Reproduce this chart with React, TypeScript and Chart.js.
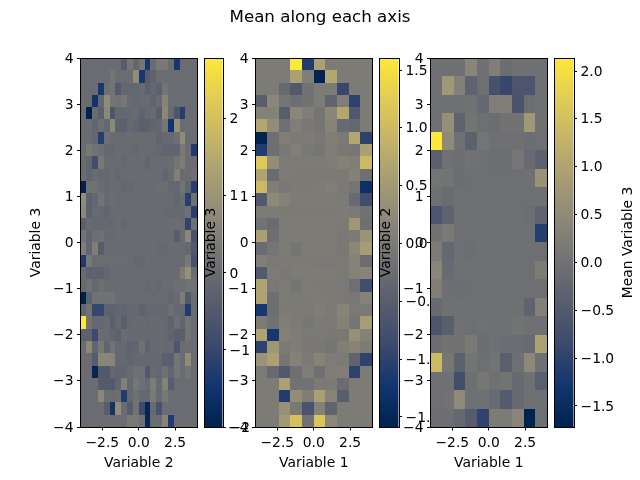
import React, { useEffect, useRef } from "react";
import { Chart, registerables, BarController, BarElement } from "chart.js";

Chart.register(...registerables);

const mainTitle = "Mean along each axis";
const colorbarTitle = "Mean Variable 3";

const cividisStops = ["#00224e", "#123570", "#3b496c", "#575d6d", "#707173", "#8a8678", "#a59c74", "#c3b369", "#e1cc55", "#fee838"];

const axisTicks = [-4, -3, -2, -1, 0, 1, 2, 3, 4];
const xTicks = [-2.5, 0, 2.5];

const xLabels = ["Variable 2", "Variable 1", "Variable 1"];
const yLabels = ["Variable 3", "Variable 3", "Variable 2"];

const cbarTicks1 = [-2, -1, 0, 1, 2];
const cbarTicks2 = [-1.5, -1, -0.5, 0, 0.5, 1, 1.5];
const cbarTicks3 = [-1.5, -1, -0.5, 0, 0.5, 1, 1.5, 2];

const range1 = [-2, 2.79];
const range2 = [-1.587, 1.604];
const range3 = [-1.72, 2.136];

// rows run from the top of the panel (y = 4) down to the bottom (y = -4)
const means1 = [
  [0,0,0,0,0,0,0,-.4,.25,-.15,.2,-1.4,0,.3,.3,0,-1.4,0,0,0],
  [0,0,0,0,0,.2,0,0,0,.8,-1.4,-.4,-.25,0,0,0,0,0,0,0],
  [0,0,0,-1.4,.1,.2,-.45,-.15,-.15,-.15,-.05,-.3,-.15,-.3,.2,0,0,0,0,0],
  [0,0,-1.5,-.15,.8,.2,.15,.25,-.05,-.12,-.05,-.02,-.25,-.02,.6,0,0,0,0,0],
  [0,-2,-.02,-.3,.7,-.6,-.15,-.15,-.12,-.05,-.25,-.12,-.05,-.35,.7,-.05,-.6,-1.2,0,0],
  [0,0,-.2,.05,-.12,.7,-.3,-.3,-.1,-.2,-.35,-.3,-.2,-.1,.25,-1.5,.9,0,0,0],
  [0,0,-.15,-1.2,.1,-.02,-.02,-.02,-.02,-.02,-.02,-.02,-.02,-.2,-.1,-.05,.1,.8,0,0],
  [0,.3,.15,.05,-.1,-.1,-.02,-.05,-.05,-.1,-.02,-.05,-.05,-.1,-.2,-.18,-.18,.3,0,-1.3],
  [0,-.2,-.8,.3,-.03,-.03,-.03,-.1,-.03,-.03,-.03,-.2,-.03,-.03,-.03,0,.2,.4,0,0],
  [0,-.2,0,-.1,-.12,0,-.1,-.02,-.03,-.03,-.03,-.03,-.03,-.03,-.2,-.02,.5,-.02,-.02,.1],
  [-2,.12,.12,0,-.12,-.02,-.02,-.12,-.12,-.03,-.03,-.03,-.03,.02,.02,-.15,-.15,.2,-.2,-1.2],
  [.8,-.3,-.15,.2,-.05,0,-.05,-.02,-.02,-.02,-.02,-.02,-.02,-.02,-.02,-.03,-.15,0,-1.2,.1],
  [.7,-.3,-.07,-.1,-.2,-.02,-.02,-.02,-.02,-.02,-.02,-.02,-.02,-.02,-.08,-.08,-.08,-.08,.1,-1.2],
  [-.3,-.05,-.1,-.1,-.12,-.12,-.02,-.1,-.02,-.02,-.02,-.02,-.02,-.02,-.02,0,.03,-.02,-1.1,.1],
  [.2,-.2,.05,.1,-.05,-.05,0,-.02,-.02,-.02,-.02,-.02,-.02,-.02,-.02,-.02,-.4,0,.7,-.7],
  [.45,-.2,.45,-.4,-.02,-.02,-.02,-.02,-.02,-.02,-.02,-.02,-.02,-.08,-.08,-.02,0,-.02,-.1,-.5],
  [-1.3,.3,-.02,0,0,0,0,0,-.02,-.1,-.1,-.02,-.02,-.02,-.02,-.02,-.02,0,.3,-.7],
  [-.02,-.3,-.25,-.3,-.15,-.02,-.02,-.02,-.02,-.02,-.02,-.02,-.02,-.02,-.02,-.02,-.02,.4,.9,-.02],
  [-.05,.12,-.1,.05,-.05,-.02,-.02,-.02,-.02,-.02,-.02,-.1,-.02,-.1,-.02,-.02,.05,.05,.15,.15],
  [-2,-.3,.12,.15,.15,.15,-.02,-.02,-.05,-.03,-.03,-.03,-.05,-.03,-.05,-.15,-.02,.4,-.5,0],
  [-.2,.15,-1,-1,-.25,-.25,-.2,-.2,-.1,-.1,-.25,-.1,-.12,-.12,-.1,.08,-.1,-.1,-1.3,0],
  [2.79,.15,-.1,-.1,-.05,-.35,-.1,-.35,-.1,-.05,-.05,-.1,-.05,-.05,-.1,-.25,.05,-.2,.2,0],
  [-.3,-.3,-.9,0,-.05,-.2,-.3,0,-.05,-.05,-.05,-.08,-.05,-.05,-.1,-.25,-.35,-.35,.2,0],
  [0,.7,-.2,.3,-.2,.15,-.1,-.1,-.25,-.2,.1,-.25,-.05,-.05,-.1,-.05,-.6,0,0,0],
  [0,0,-.4,.65,.65,.6,-.1,-.1,-.2,-.1,-.1,-.1,-.1,-.1,-.35,-.35,.2,0,.8,0],
  [0,0,-1.9,-.5,-.5,-.1,-.2,-.2,-.05,.1,.1,-.5,-.05,-.1,.1,-.2,.2,0,.2,0],
  [0,0,0,-.45,-.45,-.5,-.2,.5,-.1,.25,.1,-.05,.4,-.05,.55,-.4,0,0,0,0],
  [0,0,0,.7,0,0,.05,-1.3,-.1,.1,-.1,-.1,.3,-.05,.3,0,0,0,0,0],
  [0,0,0,0,-.4,-1.5,.8,0,-.4,.15,-.9,-1.9,-.05,-.7,0,0,0,0,0,0],
  [0,0,0,0,0,0,0,0,.3,.3,.1,-1.9,0,0,.6,-1.3,0,0,0,0],
];

const means2 = [
  [0,0,0,1.6,-1.1,.6,0,0,0,0],
  [0,0,0,.6,.05,-1.55,.7,0,0,0],
  [0,0,-.3,-.6,-.15,0,0,-.9,0,0],
  [-.5,.2,-.1,-.2,-.15,0,-.4,.05,-1,0],
  [.1,.1,-.5,.2,.05,-.1,.2,.7,-.6,0],
  [.7,.3,-.2,.05,-.05,-.1,.15,-.3,-.35,0],
  [-1.55,-.2,.05,-.02,0,-.05,.05,-.02,.7,-1],
  [-1.1,-.2,-.05,.05,-.05,-.1,.03,-.05,-.07,.6],
  [1.2,.3,0,0,0,0,.02,.1,.05,1],
  [.65,-.25,0,-.02,-.02,-.02,-.02,-.02,.1,-.2],
  [1,.05,-.05,-.02,-.02,0,.05,-.03,-.1,-1.35],
  [-.6,.25,.1,0,0,0,0,-.02,-.3,-.8],
  [0,.02,-.02,-.02,-.02,-.02,-.02,.01,-.02,-.15],
  [-.15,-.25,0,0,0,0,0,-.02,.45,-.2],
  [.6,-.2,0,0,0,0,0,-.05,-.02,.4],
  [-.25,-.1,0,-.1,0,0,0,-.05,.2,.55],
  [.05,-.03,-.01,-.01,-.02,-.03,-.03,-.03,.1,-.25],
  [-.6,0,-.05,0,0,0,0,-.02,.1,.15],
  [.65,-.05,0,-.1,0,-.02,-.02,-.03,-.2,-.8],
  [.65,-.2,0,-.02,-.02,0,-.02,-.03,-.05,.1],
  [-1.2,-.2,-.02,-.02,-.02,.03,-.02,.15,-.03,-.03],
  [0,-.15,.05,-.02,-.07,-.02,-.02,.1,-.1,.55],
  [.65,-1.2,.08,.03,-.03,-.03,-.05,-.05,.35,.1],
  [-1,.45,-.02,.03,-.05,-.05,-.1,.05,.15,0],
  [.4,.6,-.1,.1,-.02,.15,.02,-.02,-.4,-1],
  [0,-.3,-.6,-.2,.02,-.2,.03,.06,-1,0],
  [0,0,.6,-.15,-.15,-.02,-.02,-.25,0,0],
  [0,0,-1.1,.3,.03,.6,.15,-.5,0,0],
  [0,0,.35,-.05,-.7,.1,-.4,0,0,0],
  [0,0,.5,1.1,-.15,1.15,.2,0,0,0],
];

const means3 = [
  [-.03,-.03,-.03,.4,-.03,.25,-.1,-.03,-.03,-.03],
  [-.03,.75,.3,-.3,-.05,-.7,-.9,-.6,-.6,-.03],
  [-.03,-.03,-.05,0,-.2,.25,.25,-.65,-.1,-.03],
  [-.03,.6,-.3,.05,-.05,-.1,.02,.02,.75,-.03],
  [2.136,.5,-.02,-.35,.05,-.03,-.03,-.03,-.1,-.05],
  [-.4,-.03,-.08,0,-.02,-.06,-.06,.1,-.15,-.35],
  [.05,.03,-.1,-.04,-.04,-.04,-.04,-.04,-.03,.65],
  [-.02,-.12,-.04,-.04,-.04,-.04,-.04,-.04,-.05,-.03],
  [-.6,-.3,-.03,-.03,-.03,-.03,-.03,-.03,-.1,-.3],
  [.02,.15,-.04,-.03,-.03,-.03,-.03,-.03,-.05,-1.1],
  [.2,-.2,-.02,-.08,-.03,-.03,-.03,-.05,-.05,-.05],
  [.4,-.15,-.03,-.03,-.05,-.05,-.05,-.05,-.05,.2],
  [.25,-.05,-.07,-.05,-.05,-.05,-.05,-.05,-.05,-.05],
  [-.15,-.03,-.03,-.03,-.03,-.03,-.03,-.03,-.3,.3],
  [-.6,-.4,-.01,-.05,0,-.03,-.03,.03,-.03,-.03],
  [-.1,.02,.02,.15,-.1,-.03,-.1,-.1,-.15,.95],
  [1.4,.1,-.35,.05,-.05,.03,-.4,-.05,.45,-.02],
  [-.03,-.03,-.75,-.05,.1,-.02,.03,-.15,-.03,-.4],
  [-.03,.02,.5,-.03,-.03,-.15,-.5,-.15,-.03,-.03],
  [-.07,-.07,-.2,-.45,-1,.2,.2,.4,-1.7,-.05],
];

const panels = [
  { means: means1, range: range1, cbarTicks: cbarTicks1, cbarDigits: 0, left: 80.5, right: 197, cbLeft: 204.5, cbRight: 222.5 },
  { means: means2, range: range2, cbarTicks: cbarTicks2, cbarDigits: 1, left: 255.5, right: 372, cbLeft: 379.5, cbRight: 398.5 },
  { means: means3, range: range3, cbarTicks: cbarTicks3, cbarDigits: 1, left: 430.5, right: 547, cbLeft: 554.5, cbRight: 573.5 },
];

const TOP = 58;
const BOTTOM = 427;
const W = 640;
const H = 480;
const FONT = "'DejaVu Sans'";
const TICK_SIZE = 13.89;

function hexToRgb(h: string) {
  return [1, 3, 5].map((i) => parseInt(h.slice(i, i + 2), 16));
}

function cividis(t: number) {
  const clamped = Math.min(1, Math.max(0, t));
  const p = clamped * (cividisStops.length - 1);
  const i = Math.min(cividisStops.length - 2, Math.floor(p));
  const a = hexToRgb(cividisStops[i]);
  const b = hexToRgb(cividisStops[i + 1]);
  const f = p - i;
  return `rgb(${a.map((v, k) => Math.round(v + (b[k] - v) * f)).join(",")})`;
}

function minusText(text: string) {
  return text.replace("-", "\u2212");
}

class SnapBar extends BarElement {
  static id = "snapBar";
  draw(ctx: CanvasRenderingContext2D) {
    const { x, y, base, width } = (this as any).getProps(["x", "y", "base", "width"]);
    const l = Math.round(x - width / 2);
    const r = Math.round(x + width / 2);
    const t = Math.round(Math.min(y, base));
    const b = Math.round(Math.max(y, base));
    ctx.save();
    ctx.fillStyle = (this as any).options.backgroundColor;
    ctx.fillRect(l, t, r - l, b - t);
    ctx.restore();
  }
}

class HeatController extends BarController {
  static id = "heat";
  static defaults = { dataElementType: "snapBar" };
}

Chart.register(SnapBar as any, HeatController as any);

const framePlugin = {
  id: "frame",
  afterDraw(chart: any) {
    const { left, right, top, bottom } = chart.chartArea;
    const c = chart.ctx;
    c.save();
    c.strokeStyle = "#000";
    c.lineWidth = 1;
    const l = Math.round(left) - 0.5;
    const t = Math.round(top) + 0.5;
    c.strokeRect(l, t, Math.round(right) + 0.5 - l, Math.round(bottom) + 0.5 - t);
    c.restore();
  },
};

const cbarLabelPlugin = {
  id: "cbarLabel",
  afterDraw(chart: any) {
    const c = chart.ctx;
    c.save();
    c.translate(628.5, 242.5);
    c.rotate(-Math.PI / 2);
    c.font = `${TICK_SIZE}px ${FONT}`;
    c.fillStyle = "#000";
    c.textAlign = "center";
    c.textBaseline = "middle";
    c.fillText(colorbarTitle, 0, 0);
    c.restore();
  },
};

function fixedTicks(values: number[]) {
  return (scale: any) => {
    scale.ticks = values.map((value) => ({ value }));
  };
}

// a bar starting exactly on value 0 is nudged by Chart.js for its grid line; cell edges must not be
function edge(v: number) {
  return v === 0 ? 1e-9 : v;
}

const baseOptions = {
  responsive: false,
  animation: false,
  events: [],
  plugins: { legend: { display: false }, tooltip: { enabled: false }, title: { display: false } },
};

const tickStyle = {
  color: "#000",
  autoSkip: false,
  maxRotation: 0,
  minRotation: 0,
  padding: 3.5,
  font: { family: FONT, size: TICK_SIZE },
};

const gridStyle = {
  drawOnChartArea: false,
  drawTicks: true,
  tickLength: 3.5,
  tickColor: "#000",
  tickWidth: 1,
};

function heatChart(canvas: HTMLCanvasElement, index: number) {
  const p = panels[index];
  const rows = p.means.length;
  const cols = p.means[0].length;
  const cells: any[] = [];
  p.means.forEach((row, r) =>
    row.forEach((v, c) => {
      cells.push({
        x: -4 + (8 * (c + 0.5)) / cols,
        y: [edge(4 - (8 * (r + 1)) / rows), edge(4 - (8 * r) / rows)],
        v,
      });
    })
  );
  const yWidth = 60;
  const xHeight = 48;
  return new Chart(canvas, {
    type: "heat" as any,
    data: {
      datasets: [
        {
          data: cells,
          barThickness: (p.right - p.left) / cols,
          backgroundColor: (ctx: any) =>
            cividis(((ctx.raw ? ctx.raw.v : 0) - p.range[0]) / (p.range[1] - p.range[0])),
        } as any,
      ],
    },
    options: {
      ...baseOptions,
      layout: {
        padding: { left: p.left - yWidth, right: W - p.right, top: TOP, bottom: H - BOTTOM - xHeight },
      },
      scales: {
        x: {
          type: "linear",
          min: -4,
          max: 4,
          offset: false,
          grid: { ...gridStyle, offset: false },
          border: { display: false },
          afterBuildTicks: fixedTicks(xTicks),
          afterFit: (s: any) => {
            s.height = xHeight;
          },
          ticks: {
            ...tickStyle,
            padding: 4.5,
            callback: (v: number) => minusText(v.toFixed(1)),
          },
          title: {
            display: true,
            text: xLabels[index],
            color: "#000",
            font: { family: FONT, size: TICK_SIZE },
            padding: { top: 0, bottom: 3.5 },
          },
        },
        y: {
          type: "linear",
          min: -4,
          max: 4,
          grid: gridStyle,
          border: { display: false },
          afterBuildTicks: fixedTicks(axisTicks),
          afterFit: (s: any) => {
            s.width = yWidth;
          },
          ticks: {
            ...tickStyle,
            labelOffset: 1,
            callback: (v: number) => minusText(String(v)),
          },
          title: {
            display: true,
            text: yLabels[index],
            color: "#000",
            font: { family: FONT, size: TICK_SIZE },
            padding: { top: 8, bottom: 0 },
          },
        },
      },
    } as any,
    plugins: [framePlugin],
  });
}

function colorbarChart(canvas: HTMLCanvasElement, index: number) {
  const p = panels[index];
  const rightWidth = 60;
  return new Chart(canvas, {
    type: "heat" as any,
    data: {
      datasets: [
        {
          data: [{ x: 0, y: [p.range[0], p.range[1]] }],
          barThickness: p.cbRight - p.cbLeft,
          backgroundColor: (ctx: any) => {
            const g = ctx.chart.ctx.createLinearGradient(0, BOTTOM, 0, TOP);
            cividisStops.forEach((c, i) => g.addColorStop(i / (cividisStops.length - 1), c));
            return g;
          },
        } as any,
      ],
    },
    options: {
      ...baseOptions,
      layout: {
        padding: { left: p.cbLeft, right: W - p.cbRight - rightWidth, top: TOP, bottom: H - BOTTOM },
      },
      scales: {
        x: { type: "linear", min: -0.5, max: 0.5, display: false, offset: false, grid: { offset: false } },
        y: {
          type: "linear",
          position: "right",
          min: p.range[0],
          max: p.range[1],
          grid: gridStyle,
          border: { display: false },
          afterBuildTicks: fixedTicks(p.cbarTicks),
          afterFit: (s: any) => {
            s.width = rightWidth;
          },
          ticks: {
            ...tickStyle,
            labelOffset: 1,
            callback: (v: number) => minusText(v.toFixed(p.cbarDigits)),
          },
        },
      },
    } as any,
    plugins: index === 2 ? [framePlugin, cbarLabelPlugin] : [framePlugin],
  });
}

function titleChart(canvas: HTMLCanvasElement) {
  return new Chart(canvas, {
    type: "bar",
    data: { datasets: [] },
    options: {
      ...baseOptions,
      scales: { x: { display: false }, y: { display: false } },
      plugins: {
        ...baseOptions.plugins,
        title: {
          display: true,
          text: mainTitle,
          color: "#000",
          font: { family: FONT, size: 16.67, weight: "normal" },
          padding: { top: 8, bottom: 0 },
        },
      },
    } as any,
  });
}

export default function App() {
  const host = useRef<HTMLDivElement>(null);

  useEffect(() => {
    const el = host.current!;
    const charts: Chart[] = [];
    const addCanvas = () => {
      const c = document.createElement("canvas");
      c.width = W;
      c.height = H;
      c.style.position = "absolute";
      c.style.left = "0";
      c.style.top = "0";
      c.style.width = `${W}px`;
      c.style.height = `${H}px`;
      el.appendChild(c);
      return c;
    };
    panels.forEach((_, i) => {
      charts.push(heatChart(addCanvas(), i));
      charts.push(colorbarChart(addCanvas(), i));
    });
    charts.push(titleChart(addCanvas()));
    return () => {
      charts.forEach((c) => c.destroy());
      el.innerHTML = "";
    };
  }, []);

  return (
    <div
      ref={host}
      style={{ position: "fixed", left: 0, top: 0, width: W, height: H, background: "#fff", overflow: "hidden" }}
    />
  );
}
